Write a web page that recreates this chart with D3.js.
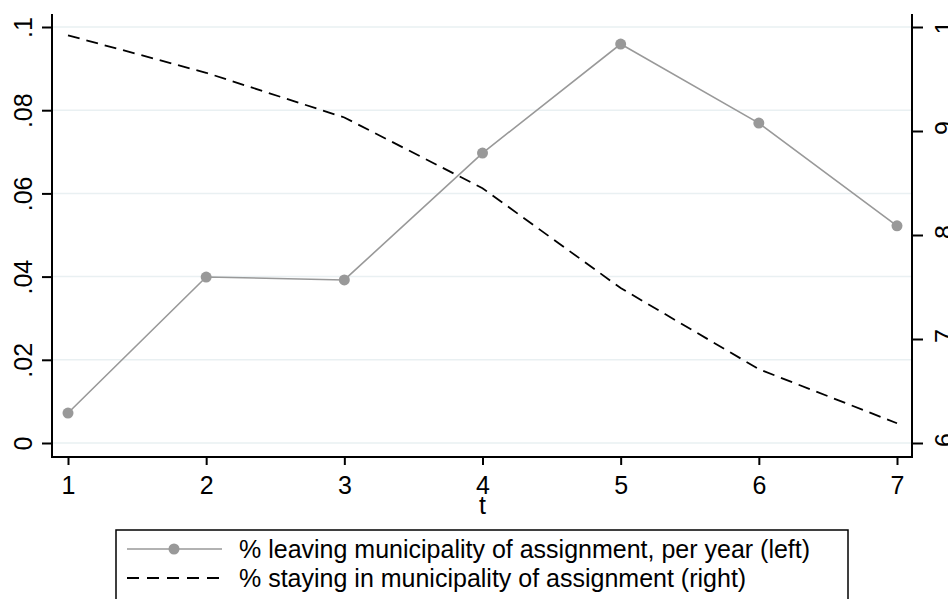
<!doctype html>
<html>

<head>
    <title>
        Leaving and staying
    </title>
    <style>
        body { margin: 0; background: #ffffff; }
        text { font-family: "Liberation Sans", Arial, sans-serif; }
    </style>
</head>

<body>
    <script src="https://d3js.org/d3.v7.min.js"></script>
    <script>
    // data
    var years = [1, 2, 3, 4, 5, 6, 7];
    var leaving = [0.0072, 0.0399, 0.0392, 0.0697, 0.0959, 0.0769, 0.0522];
    var staying = [0.992, 0.956, 0.913, 0.845, 0.749, 0.671, 0.619];

    var leftTicks = [0, 0.02, 0.04, 0.06, 0.08, 0.1];
    var leftLabels = ["0", ".02", ".04", ".06", ".08", ".1"];
    var rightTicks = [0.6, 0.7, 0.8, 0.9, 1];
    var rightLabels = [".6", ".7", ".8", ".9", "1"];
    var legendLabels = [
        "% leaving municipality of assignment, per year (left)",
        "% staying in municipality of assignment (right)"
    ];

    var width = 948, height = 599;

    // plot frame
    var frame = { left: 52, right: 912, top: 14, bottom: 457 };

    var svg = d3.select("body")
        .append("svg")
        .attr("width", width)
        .attr("height", height);

    // scales
    var x = d3.scaleLinear().domain([1, 7]).range([68, 897]);
    var yLeft = d3.scaleLinear().domain([0, 0.1]).range([443, 27]);
    var yRight = d3.scaleLinear().domain([0.6, 1]).range([443, 27]);

    // gridlines
    svg.append("g")
        .selectAll("line")
        .data(leftTicks)
        .join("line")
        .attr("x1", frame.left)
        .attr("x2", frame.right)
        .attr("y1", d => yLeft(d))
        .attr("y2", d => yLeft(d))
        .attr("stroke", "#e9f0f2")
        .attr("stroke-width", 1.5);

    // left axis
    var gLeft = svg.append("g")
        .attr("transform", "translate(" + frame.left + ",0)")
        .call(d3.axisLeft(yLeft)
            .tickValues(leftTicks)
            .tickSize(10)
            .tickFormat((d, i) => leftLabels[i]));

    // right axis
    var gRight = svg.append("g")
        .attr("transform", "translate(" + frame.right + ",0)")
        .call(d3.axisRight(yRight)
            .tickValues(rightTicks)
            .tickSize(11)
            .tickFormat((d, i) => rightLabels[i]));

    // bottom axis
    var gBottom = svg.append("g")
        .attr("transform", "translate(0," + frame.bottom + ")")
        .call(d3.axisBottom(x)
            .tickValues(years)
            .tickSize(8)
            .tickFormat(d3.format("d")));

    [gLeft, gRight, gBottom].forEach(function (g) {
        g.select(".domain").remove();
        g.selectAll(".tick line").attr("stroke", "#000").attr("stroke-width", 2);
        g.selectAll(".tick text")
            .attr("fill", "#000")
            .attr("font-size", 25)
            .attr("font-family", "'Liberation Sans', Arial, sans-serif");
    });

    // vertical tick labels
    gLeft.selectAll(".tick text")
        .attr("transform", "rotate(-90)")
        .attr("text-anchor", "middle")
        .attr("x", 0)
        .attr("y", -20)
        .attr("dy", 0);

    gRight.selectAll(".tick text")
        .attr("transform", "rotate(-90)")
        .attr("text-anchor", "middle")
        .attr("x", 0)
        .attr("y", 41)
        .attr("dy", 0);

    gBottom.selectAll(".tick text")
        .attr("y", 37)
        .attr("dy", 0);

    // axis lines
    svg.append("path")
        .attr("d", "M" + frame.left + "," + frame.top + "V" + frame.bottom +
            "H" + frame.right + "V" + frame.top)
        .attr("fill", "none")
        .attr("stroke", "#000")
        .attr("stroke-width", 2);

    // x title
    svg.append("text")
        .attr("x", x(4))
        .attr("y", 514)
        .attr("text-anchor", "middle")
        .attr("font-size", 25)
        .text("t");

    // staying line (right axis)
    svg.append("path")
        .datum(staying)
        .attr("d", d3.line().x((d, i) => x(years[i])).y(d => yRight(d)))
        .attr("fill", "none")
        .attr("stroke", "#000")
        .attr("stroke-width", 1.8)
        .attr("stroke-dasharray", "12,7");

    // leaving line (left axis)
    svg.append("path")
        .datum(leaving)
        .attr("d", d3.line().x((d, i) => x(years[i])).y(d => yLeft(d)))
        .attr("fill", "none")
        .attr("stroke", "#999999")
        .attr("stroke-width", 1.6);

    svg.append("g")
        .selectAll("circle")
        .data(leaving)
        .join("circle")
        .attr("cx", (d, i) => x(years[i]))
        .attr("cy", d => yLeft(d))
        .attr("r", 5.5)
        .attr("fill", "#999999");

    // legend
    var legend = svg.append("g");
    legend.append("rect")
        .attr("x", 116)
        .attr("y", 530)
        .attr("width", 732)
        .attr("height", 90)
        .attr("fill", "#fff")
        .attr("stroke", "#000")
        .attr("stroke-width", 1.5);

    legend.append("line")
        .attr("x1", 127).attr("x2", 222)
        .attr("y1", 549).attr("y2", 549)
        .attr("stroke", "#999999")
        .attr("stroke-width", 1.6);
    legend.append("circle")
        .attr("cx", 174).attr("cy", 549)
        .attr("r", 5.5)
        .attr("fill", "#999999");

    legend.append("line")
        .attr("x1", 127).attr("x2", 222)
        .attr("y1", 578).attr("y2", 578)
        .attr("stroke", "#000")
        .attr("stroke-width", 1.8)
        .attr("stroke-dasharray", "12,8");

    legend.selectAll("text.lab")
        .data(legendLabels)
        .join("text")
        .attr("class", "lab")
        .attr("x", 239)
        .attr("y", (d, i) => 558 + i * 29)
        .attr("font-size", 25)
        .text(d => d);
    </script>
</body>
</html>
